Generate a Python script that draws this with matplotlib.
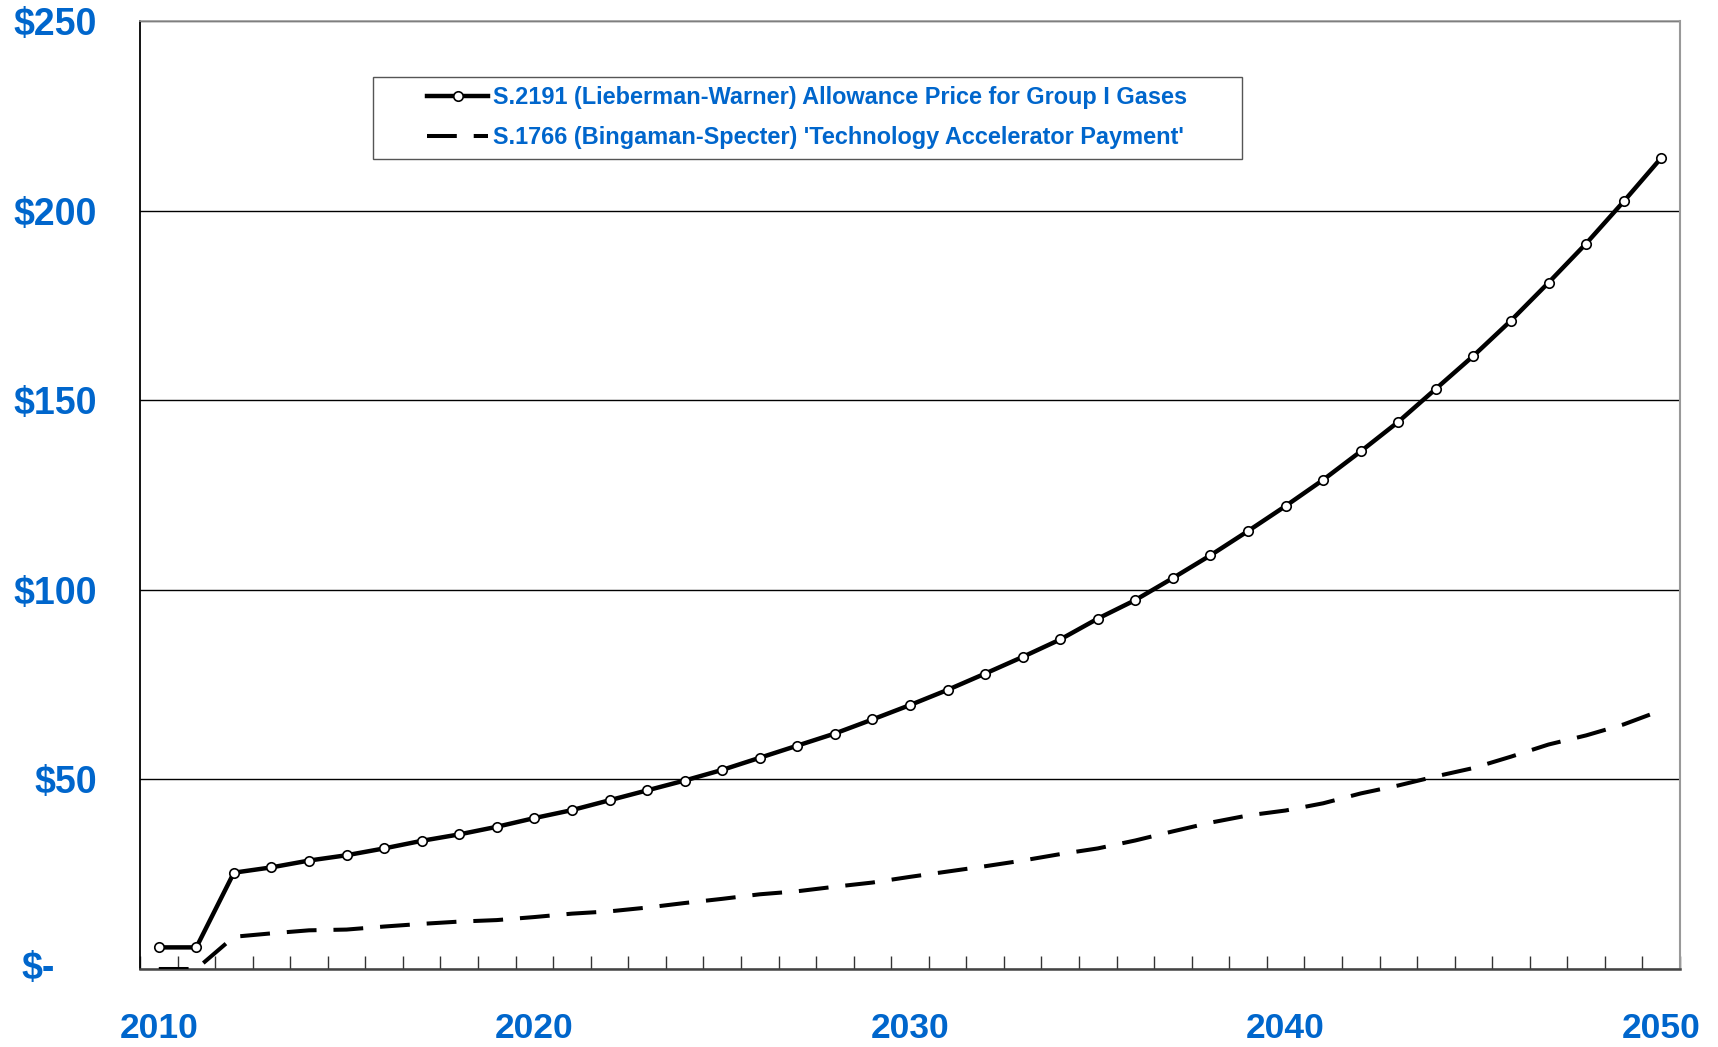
import matplotlib
matplotlib.use("Agg")
import matplotlib.pyplot as plt
from matplotlib.patches import Rectangle
from matplotlib.transforms import blended_transform_factory
from matplotlib.ticker import FixedLocator

plt.rcParams['font.family'] = ['Liberation Sans', 'DejaVu Sans']

years = list(range(2010, 2051))

lieberman_warner = [
    5.7, 5.7, 25.4, 26.8, 28.6, 30.0, 31.8, 33.8, 35.5, 37.5,
    39.8, 41.9, 44.5, 47.1, 49.7, 52.5, 55.7, 58.9, 62.1, 65.8,
    69.6, 73.6, 77.9, 82.3, 86.9, 92.4, 97.3, 103.1, 109.1, 115.5,
    122.1, 129.0, 136.5, 144.3, 153.0, 161.7, 171.0, 181.0, 191.3, 202.4,
    213.9,
]

bingaman_specter = [
    0.0, 0.0, 8.5, 9.4, 10.2, 10.4, 11.2, 11.9, 12.5, 12.9,
    13.7, 14.6, 15.2, 16.2, 17.4, 18.5, 19.7, 20.5, 21.7, 22.8,
    24.3, 25.7, 27.1, 28.6, 30.3, 31.8, 33.9, 36.3, 38.6, 40.5,
    41.8, 43.7, 46.3, 48.4, 50.8, 53.0, 56.0, 59.2, 61.6, 64.5,
    68.2,
]

label_lw = "S.2191 (Lieberman-Warner) Allowance Price for Group I Gases"
label_bs = "S.1766 (Bingaman-Specter) 'Technology Accelerator Payment'"

y_ticks = [0, 50, 100, 150, 200, 250]
y_labels = ["", "$50", "$100", "$150", "$200", "$250"]
zero_label = "$-"
x_ticks = [2010, 2020, 2030, 2040, 2050]
x_labels = ["2010", "2020", "2030", "2040", "2050"]

BLUE = "#0066CC"
W, H = 1718, 1047

fig = plt.figure(figsize=(W / 100, H / 100), dpi=100)
ax = fig.add_axes([140 / W, 1 - 969 / H, (1680 - 140) / W, (969 - 21) / H])

ax.plot(years, lieberman_warner, color="black", lw=3.2, marker="o",
        markersize=6.8, markerfacecolor="white", markeredgecolor="black",
        markeredgewidth=1.2, zorder=4, label=label_lw)
ax.plot(years, bingaman_specter, color="black", lw=2.9,
        linestyle=(0, (7.4, 4.2)), zorder=3, label=label_bs,
        solid_capstyle="butt", dash_capstyle="butt")

ax.set_xlim(2009.5, 2050.5)
ax.set_ylim(0, 250)

ax.set_yticks(y_ticks)
ax.set_yticklabels(y_labels)
ax.tick_params(axis="y", length=0, pad=31, labelsize=27, labelcolor=BLUE)
for t in ax.get_yticklabels():
    t.set_fontweight("bold")

ax.text(55 / W, 0, zero_label, transform=blended_transform_factory(fig.transFigure, ax.transData),
        ha="right", va="center", fontsize=27, fontweight="bold", color=BLUE)

ax.set_xticks(x_ticks)
ax.set_xticklabels(x_labels)
ax.tick_params(axis="x", which="major", length=0, pad=31, labelsize=25.5, labelcolor=BLUE)
for t in ax.get_xticklabels():
    t.set_fontweight("bold")
ax.xaxis.set_minor_locator(FixedLocator([y + 0.5 for y in range(2009, 2051)]))
ax.tick_params(axis="x", which="minor", direction="in", length=9.4, width=1.0, color="#333333")

ax.yaxis.grid(True, color="black", lw=1.0)
ax.set_axisbelow(True)

ax.spines["left"].set_color("black")
ax.spines["left"].set_linewidth(1.3)
ax.spines["bottom"].set_color("#444444")
ax.spines["bottom"].set_linewidth(1.8)
ax.spines["top"].set_color("#999999")
ax.spines["top"].set_linewidth(1.2)
ax.spines["right"].set_color("#999999")
ax.spines["right"].set_linewidth(1.5)

# legend frame
frame = Rectangle((372.5 / W, 1 - 158.9 / H), (1241.5 - 372.5) / W, (158.9 - 76.7) / H,
                  transform=fig.transFigure, facecolor="white", edgecolor="#555555",
                  lw=1.0, zorder=5, clip_on=False)
ax.add_patch(frame)
leg = ax.legend(loc="center left", bbox_to_anchor=(427 / W, 1 - 117.5 / H),
                bbox_transform=fig.transFigure, frameon=False, borderpad=0,
                borderaxespad=0, handlelength=2.6, handletextpad=0.2,
                labelspacing=0.7, numpoints=1,
                prop={"family": "Liberation Sans", "weight": "bold", "size": 16.9})
leg.set_zorder(6)
for t in leg.get_texts():
    t.set_color(BLUE)

fig.savefig("out.png", dpi=100, facecolor="white")
